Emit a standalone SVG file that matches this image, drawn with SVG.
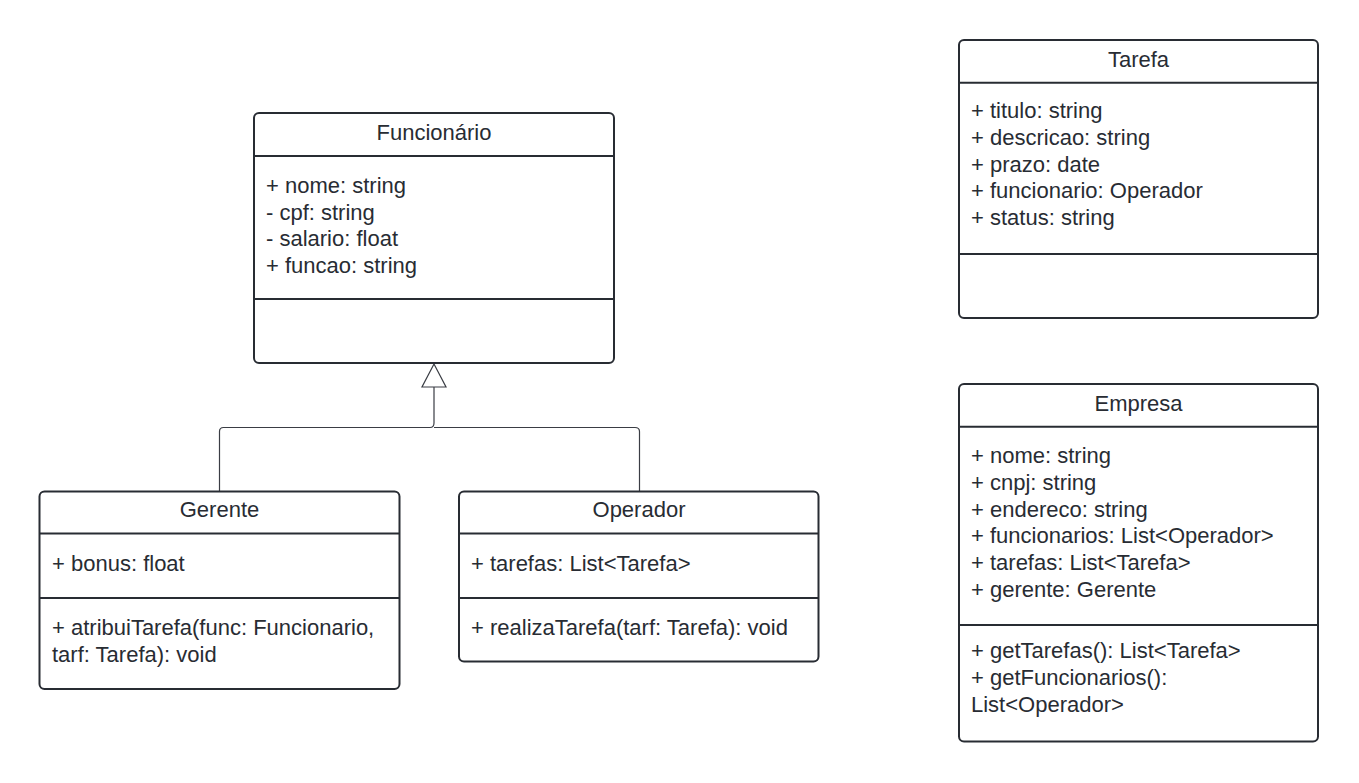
<svg xmlns="http://www.w3.org/2000/svg" width="1359" height="783" viewBox="0 0 1359 783">
  <style>
    .box { fill: #ffffff; stroke: #282c33; stroke-width: 2; }
    .div { stroke: #282c33; stroke-width: 2; }
    .t { font-family: "Liberation Sans", Arial, sans-serif; font-size: 22px; fill: #282c33; }
    .title { text-anchor: middle; }
    .conn { fill: none; stroke: #3a3d44; stroke-width: 1.2; }
  </style>
  <rect width="1359" height="783" fill="#ffffff"/>

  <!-- Inheritance connectors -->
  <g id="connectors">
    <path class="conn" d="M434,387 V423 Q434,427.5 430,427.5 H223.5 Q219.5,427.5 219.5,431.5 V491"/>
    <path class="conn" d="M434,427.5 H635 Q639.5,427.5 639.5,431.5 V491"/>
    <polygon points="434,364 422,387 446,387" fill="#ffffff" stroke="#3a3d44" stroke-width="1.2"/>
  </g>

  <!-- Funcionário -->
  <g id="funcionario">
    <rect class="box" x="254" y="113" width="360" height="250" rx="5"/>
    <line class="div" x1="254" y1="156" x2="614" y2="156"/>
    <line class="div" x1="254" y1="299" x2="614" y2="299"/>
    <text class="t title" x="434" y="139.5">Funcionário</text>
    <text class="t" x="266" y="193">+ nome: string</text>
    <text class="t" x="266" y="219.6">- cpf: string</text>
    <text class="t" x="266" y="246.2">- salario: float</text>
    <text class="t" x="266" y="272.8">+ funcao: string</text>
  </g>

  <!-- Gerente -->
  <g id="gerente">
    <rect class="box" x="39.5" y="491.5" width="360" height="197.5" rx="5"/>
    <line class="div" x1="39.5" y1="533.5" x2="399.5" y2="533.5"/>
    <line class="div" x1="39.5" y1="598" x2="399.5" y2="598"/>
    <text class="t title" x="219.5" y="516.7">Gerente</text>
    <text class="t" x="52" y="570.7">+ bonus: float</text>
    <text class="t" x="52" y="635">+ atribuiTarefa(func: Funcionario,</text>
    <text class="t" x="52" y="661.7">tarf: Tarefa): void</text>
  </g>

  <!-- Operador -->
  <g id="operador">
    <rect class="box" x="459" y="491.5" width="359.5" height="170" rx="5"/>
    <line class="div" x1="459" y1="533.5" x2="818.5" y2="533.5"/>
    <line class="div" x1="459" y1="598" x2="818.5" y2="598"/>
    <text class="t title" x="639" y="516.7">Operador</text>
    <text class="t" x="471" y="570.7">+ tarefas: List&lt;Tarefa&gt;</text>
    <text class="t" x="471" y="635">+ realizaTarefa(tarf: Tarefa): void</text>
  </g>

  <!-- Tarefa -->
  <g id="tarefa">
    <rect class="box" x="959" y="40" width="359" height="278" rx="5"/>
    <line class="div" x1="959" y1="82.7" x2="1318" y2="82.7"/>
    <line class="div" x1="959" y1="254" x2="1318" y2="254"/>
    <text class="t title" x="1138.5" y="66.7">Tarefa</text>
    <text class="t" x="971" y="118.3">+ titulo: string</text>
    <text class="t" x="971" y="145">+ descricao: string</text>
    <text class="t" x="971" y="171.7">+ prazo: date</text>
    <text class="t" x="971" y="198.3">+ funcionario: Operador</text>
    <text class="t" x="971" y="225">+ status: string</text>
  </g>

  <!-- Empresa -->
  <g id="empresa">
    <rect class="box" x="959" y="384" width="359" height="357.5" rx="5"/>
    <line class="div" x1="959" y1="426.7" x2="1318" y2="426.7"/>
    <line class="div" x1="959" y1="625" x2="1318" y2="625"/>
    <text class="t title" x="1138.5" y="410.7">Empresa</text>
    <text class="t" x="971" y="463.3">+ nome: string</text>
    <text class="t" x="971" y="490">+ cnpj: string</text>
    <text class="t" x="971" y="516.7">+ endereco: string</text>
    <text class="t" x="971" y="543.3">+ funcionarios: List&lt;Operador&gt;</text>
    <text class="t" x="971" y="570">+ tarefas: List&lt;Tarefa&gt;</text>
    <text class="t" x="971" y="596.7">+ gerente: Gerente</text>
    <text class="t" x="971" y="658.3">+ getTarefas(): List&lt;Tarefa&gt;</text>
    <text class="t" x="971" y="685">+ getFuncionarios():</text>
    <text class="t" x="971" y="711.7">List&lt;Operador&gt;</text>
  </g>
</svg>
